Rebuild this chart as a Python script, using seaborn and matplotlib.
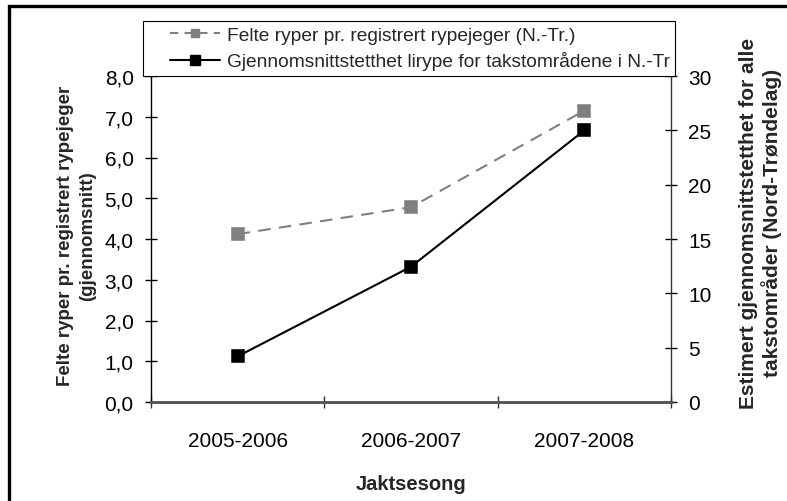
import matplotlib
matplotlib.use("Agg")
import matplotlib.pyplot as plt
from matplotlib.lines import Line2D
from matplotlib.legend_handler import HandlerLine2D
from matplotlib.ticker import FixedLocator, FuncFormatter
import seaborn as sns
import pandas as pd

# Hunting seasons and the two series
seasons = ["2005-2006", "2006-2007", "2007-2008"]
felte_per_jeger = [4.12, 4.78, 7.15]          # birds shot per registered hunter (left axis)
tetthet_takst = [4.2, 12.45, 25.0]           # mean density in survey areas (right axis)

label_felte = "Felte ryper pr. registrert rypejeger (N.-Tr.)"
label_tetthet = "Gjennomsnittstetthet lirype for takstområdene i N.-Tr"

left_ticks = [0, 1, 2, 3, 4, 5, 6, 7, 8]
right_ticks = [0, 5, 10, 15, 20, 25, 30]

df = pd.DataFrame({"sesong": seasons, "felte": felte_per_jeger, "tetthet": tetthet_takst})

sns.set_theme(style="white")
plt.rcParams["font.family"] = ["Liberation Sans", "DejaVu Sans"]

fig = plt.figure(figsize=(7.87, 5.02), dpi=100)
ax = fig.add_axes([151 / 787, 1 - 403 / 502, 520 / 787, 326 / 502])
ax2 = ax.twinx()

gray = "#808080"
sns.pointplot(data=df, x="sesong", y="felte", order=seasons, ax=ax,
              color=gray, markers="s", linestyles="--", markersize=8.5,
              linewidth=1.5)
sns.pointplot(data=df, x="sesong", y="tetthet", order=seasons, ax=ax2,
              color="black", markers="s", linestyles="-", markersize=8.5,
              linewidth=1.5)
for ln in ax.lines:
    ln.set_dashes((6, 4))

ax.set_xlim(-0.5, 2.5)
ax.set_ylim(0, 8)
ax2.set_ylim(0, 30)
ax.set_yticks(left_ticks)
ax.yaxis.set_major_formatter(FuncFormatter(lambda v, p: f"{v:.1f}".replace(".", ",")))
ax2.set_yticks(right_ticks)

# category labels centred, tick marks on the category boundaries
ax.set_xticks(range(len(seasons)))
ax.set_xticklabels(seasons)
ax.xaxis.set_minor_locator(FixedLocator([-0.5, 0.5, 1.5, 2.5]))
ax.tick_params(axis="x", which="major", length=0, pad=21, labelsize=15, colors="black")
ax.tick_params(axis="x", which="minor", bottom=True, direction="inout", length=9, width=1, color="#333333")
ax.tick_params(axis="y", direction="inout", length=9, width=1, pad=8, labelsize=15,
               left=True, colors="black")
ax2.tick_params(axis="y", direction="inout", length=9, width=1, pad=8, labelsize=15,
                right=True, colors="black")
for a in (ax, ax2):
    a.grid(False)
    a.spines["top"].set_visible(False)
    a.spines["left"].set_color("black")
    a.spines["right"].set_color("#333333")
    a.spines["left"].set_linewidth(1.0)
    a.spines["right"].set_linewidth(1.0)
    a.spines["bottom"].set_color("#555555")
    a.spines["bottom"].set_linewidth(1.8)
ax2.spines["left"].set_visible(False)
ax.spines["right"].set_visible(False)

ax.set_xlabel("Jaktsesong", fontsize=14.5, fontweight="bold")
ax.xaxis.set_label_coords(0.5, -0.222)
ax.set_ylabel("Felte ryper pr. registrert rypejeger\n(gjennomsnitt)",
              fontsize=13.5, fontweight="bold", linespacing=1.45)
ax.yaxis.set_label_coords(-0.105, 0.512)
ax2.set_ylabel("Estimert gjennomsnittstetthet for alle\ntakstområder (Nord-Trøndelag)",
               fontsize=15, fontweight="bold", linespacing=1.2)
ax2.yaxis.set_label_coords(1.13, 0.552)

handles = [
    Line2D([], [], color=gray, marker="s", markersize=6, linewidth=1.5, dashes=(4, 3)),
    Line2D([], [], color="black", marker="s", markersize=6.5, linewidth=1.5),
]
leg = fig.legend(handles, [label_felte, label_tetthet],
                 loc="upper left", bbox_to_anchor=(143 / 787, 1 - 22 / 502),
                 fontsize=13.8, frameon=True, fancybox=False, framealpha=1,
                 edgecolor="black", handlelength=3.7, handletextpad=0.36,
                 borderpad=0.3, labelspacing=0.38, borderaxespad=0,
                 handler_map={Line2D: HandlerLine2D(xpad=1.1)})
leg.get_frame().set_linewidth(0.8)

# outer frame running along the top and left edge
fig.add_artist(Line2D([8.5 / 787, 8.5 / 787, 1.0], [0.0, 1 - 6.5 / 502, 1 - 6.5 / 502],
                      transform=fig.transFigure, color="black", linewidth=2.4,
                      solid_joinstyle="miter"))

fig.savefig("out.png", dpi=100, facecolor="white")
